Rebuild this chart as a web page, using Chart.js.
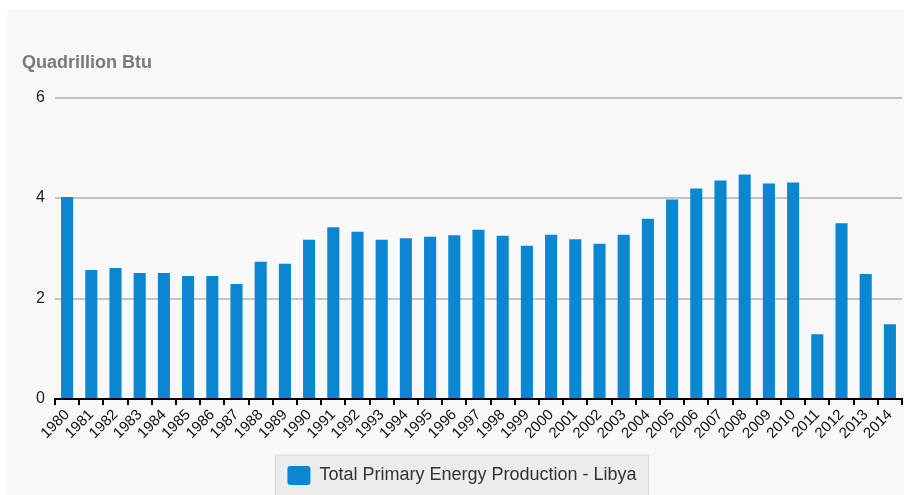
<!DOCTYPE html>
<html>
  <head>
    <meta charset="UTF-8">
    <title>Total Primary Energy Production - Libya</title>
    <script src="https://cdn.jsdelivr.net/npm/chart.js"></script>
    <style>
      body { margin: 0; background: #fff; }
      #box { position: absolute; left: 7px; top: 10px; width: 897px; height: 485px; background: #f8f8f8; }
    </style>
  </head>
  <body>
    <div id="box"><canvas id="myChart"></canvas></div>

    <script>
      // data
      const years = ['1980','1981','1982','1983','1984','1985','1986','1987','1988','1989',
                     '1990','1991','1992','1993','1994','1995','1996','1997','1998','1999',
                     '2000','2001','2002','2003','2004','2005','2006','2007','2008','2009',
                     '2010','2011','2012','2013','2014'];
      const production = [4.02, 2.57, 2.61, 2.51, 2.51, 2.45, 2.45, 2.29, 2.73, 2.69,
                          3.17, 3.42, 3.33, 3.17, 3.20, 3.23, 3.26, 3.37, 3.25, 3.05,
                          3.27, 3.18, 3.09, 3.27, 3.59, 3.97, 4.19, 4.35, 4.47, 4.29,
                          4.31, 1.29, 3.50, 2.49, 1.49];
      const yTicks = [0, 2, 4, 6];
      const seriesName = 'Total Primary Energy Production - Libya';
      const unitLabel = 'Quadrillion Btu';

      // grey box behind the legend
      const legendBg = {
        id: 'legendBg',
        beforeDraw(chart) {
          const lg = chart.legend;
          if (!lg || !lg.legendHitBoxes.length) return;
          const hb = lg.legendHitBoxes[0];
          const ctx = chart.ctx;
          ctx.save();
          ctx.fillStyle = '#ececec';
          ctx.strokeStyle = '#d8d8d8';
          ctx.lineWidth = 1;
          ctx.fillRect(hb.left - 12, hb.top - 11, hb.width + 24, 60);
          ctx.strokeRect(hb.left - 12, hb.top - 11, hb.width + 24, 60);
          ctx.restore();
        }
      };

      Chart.defaults.font.family = '"Liberation Sans", Arial, sans-serif';

      const ctx = document.getElementById('myChart').getContext('2d');
      new Chart(ctx, {
        type: 'bar',
        data: {
          labels: years,
          datasets: [{
            label: seriesName,
            data: production,
            backgroundColor: '#0b87d2',
            borderWidth: 0,
            categoryPercentage: 1,
            barPercentage: 0.5
          }]
        },
        plugins: [legendBg],
        options: {
          responsive: true,
          maintainAspectRatio: false,
          animation: false,
          layout: { padding: { left: 15, right: 2, top: 0, bottom: 0 } },
          plugins: {
            title: {
              display: true,
              text: unitLabel,
              align: 'start',
              color: '#7a7a7a',
              font: { size: 18, weight: 'bold' },
              padding: { top: 42, bottom: 24 }
            },
            legend: {
              position: 'bottom',
              labels: {
                color: '#333',
                font: { size: 18 },
                boxWidth: 23,
                boxHeight: 19,
                useBorderRadius: true,
                borderRadius: 3,
                padding: 10
              }
            },
            tooltip: { enabled: false }
          },
          scales: {
            x: {
              grid: { display: true, drawOnChartArea: false, drawTicks: true, tickLength: 6, color: '#000', lineWidth: 2, offset: true },
              border: { display: true, color: '#000', width: 2 },
              ticks: { color: '#111', font: { size: 15 }, maxRotation: 45, minRotation: 45, autoSkip: false, padding: 1 },
              afterFit(scale) { scale.height = 57; }
            },
            y: {
              min: 0,
              max: 6,
              afterBuildTicks(scale) { scale.ticks = yTicks.map(v => ({ value: v })); },
              grid: { color: '#c4c4c4', lineWidth: 2, drawTicks: false },
              border: { display: false },
              ticks: { color: '#222', font: { size: 16 }, padding: 10 },
              afterFit(scale) { scale.width = 33; }
            }
          }
        }
      });
    </script>
  </body>
</html>
